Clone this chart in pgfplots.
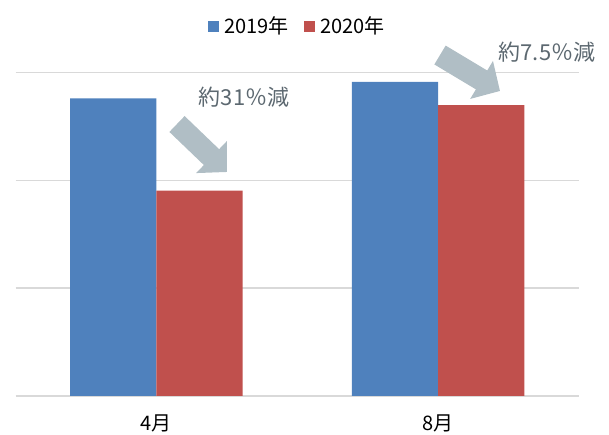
\documentclass[border=0pt]{standalone}
\usepackage{fontspec}
\setmainfont{Noto Sans CJK JP}
\usepackage{pgfplots}
\pgfplotsset{compat=1.18}
\usetikzlibrary{arrows.meta}
\definecolor{blu}{RGB}{79,129,189}
\definecolor{rd}{RGB}{192,80,77}
\definecolor{arr}{RGB}{176,190,197}
\definecolor{ann}{RGB}{92,104,112}
\definecolor{grd}{RGB}{217,217,217}
\pgfplotsset{sqlegend/.style={legend image code/.code={\fill[##1] (0pt,-5.5pt) rectangle (11pt,5.5pt);}}}
\begin{document}
\begin{tikzpicture}
\begin{axis}[
 at={(15.5pt,38.2pt)}, anchor=south west,
 scale only axis, width=563.5pt, height=323.3pt,
 xmin=-0.5, xmax=1.5, ymin=0, ymax=3,
 ybar=0pt, bar width=86.3pt,
 xtick={0,1}, xticklabels={4月,8月},
 ytick={0,1,2,3}, yticklabels={},
 ymajorgrids, grid style={grd, line width=1.5pt},
 axis line style={draw=none},
 major tick length=0pt,
 xticklabel style={font=\fontsize{20}{24}\selectfont, yshift=-15pt},
 legend style={at={(axis description cs:0.5,1)}, anchor=center, yshift=46.5pt,
   draw=none, fill=none, font=\fontsize{20}{24}\selectfont,
   /tikz/every odd column/.append style={column sep=3.5pt},
   /tikz/every even column/.append style={column sep=13pt}},
 legend columns=2,
]
\addplot[fill=blu, draw=none, sqlegend] coordinates {(0,2.76) (1,2.914)};
\addplot[fill=rd, draw=none, sqlegend] coordinates {(0,1.903) (1,2.698)};
\legend{2019年,2020年}
\end{axis}
\draw[arr, line width=22pt, -{Triangle[length=21.5pt,width=43pt]}] (177pt,310pt) -- (227pt,262pt);
\draw[arr, line width=22pt, -{Triangle[length=21.5pt,width=43pt]}] (440pt,379pt) -- (500pt,343pt);
\node[text=ann, font=\fontsize{22}{26}\selectfont] at (244pt,337pt) {約31％減};
\node[text=ann, font=\fontsize{22}{26}\selectfont] at (547pt,382pt) {約7.5％減};
\pgfresetboundingbox
\useasboundingbox (0,0) rectangle (609pt,434pt);
\end{tikzpicture}
\end{document}
